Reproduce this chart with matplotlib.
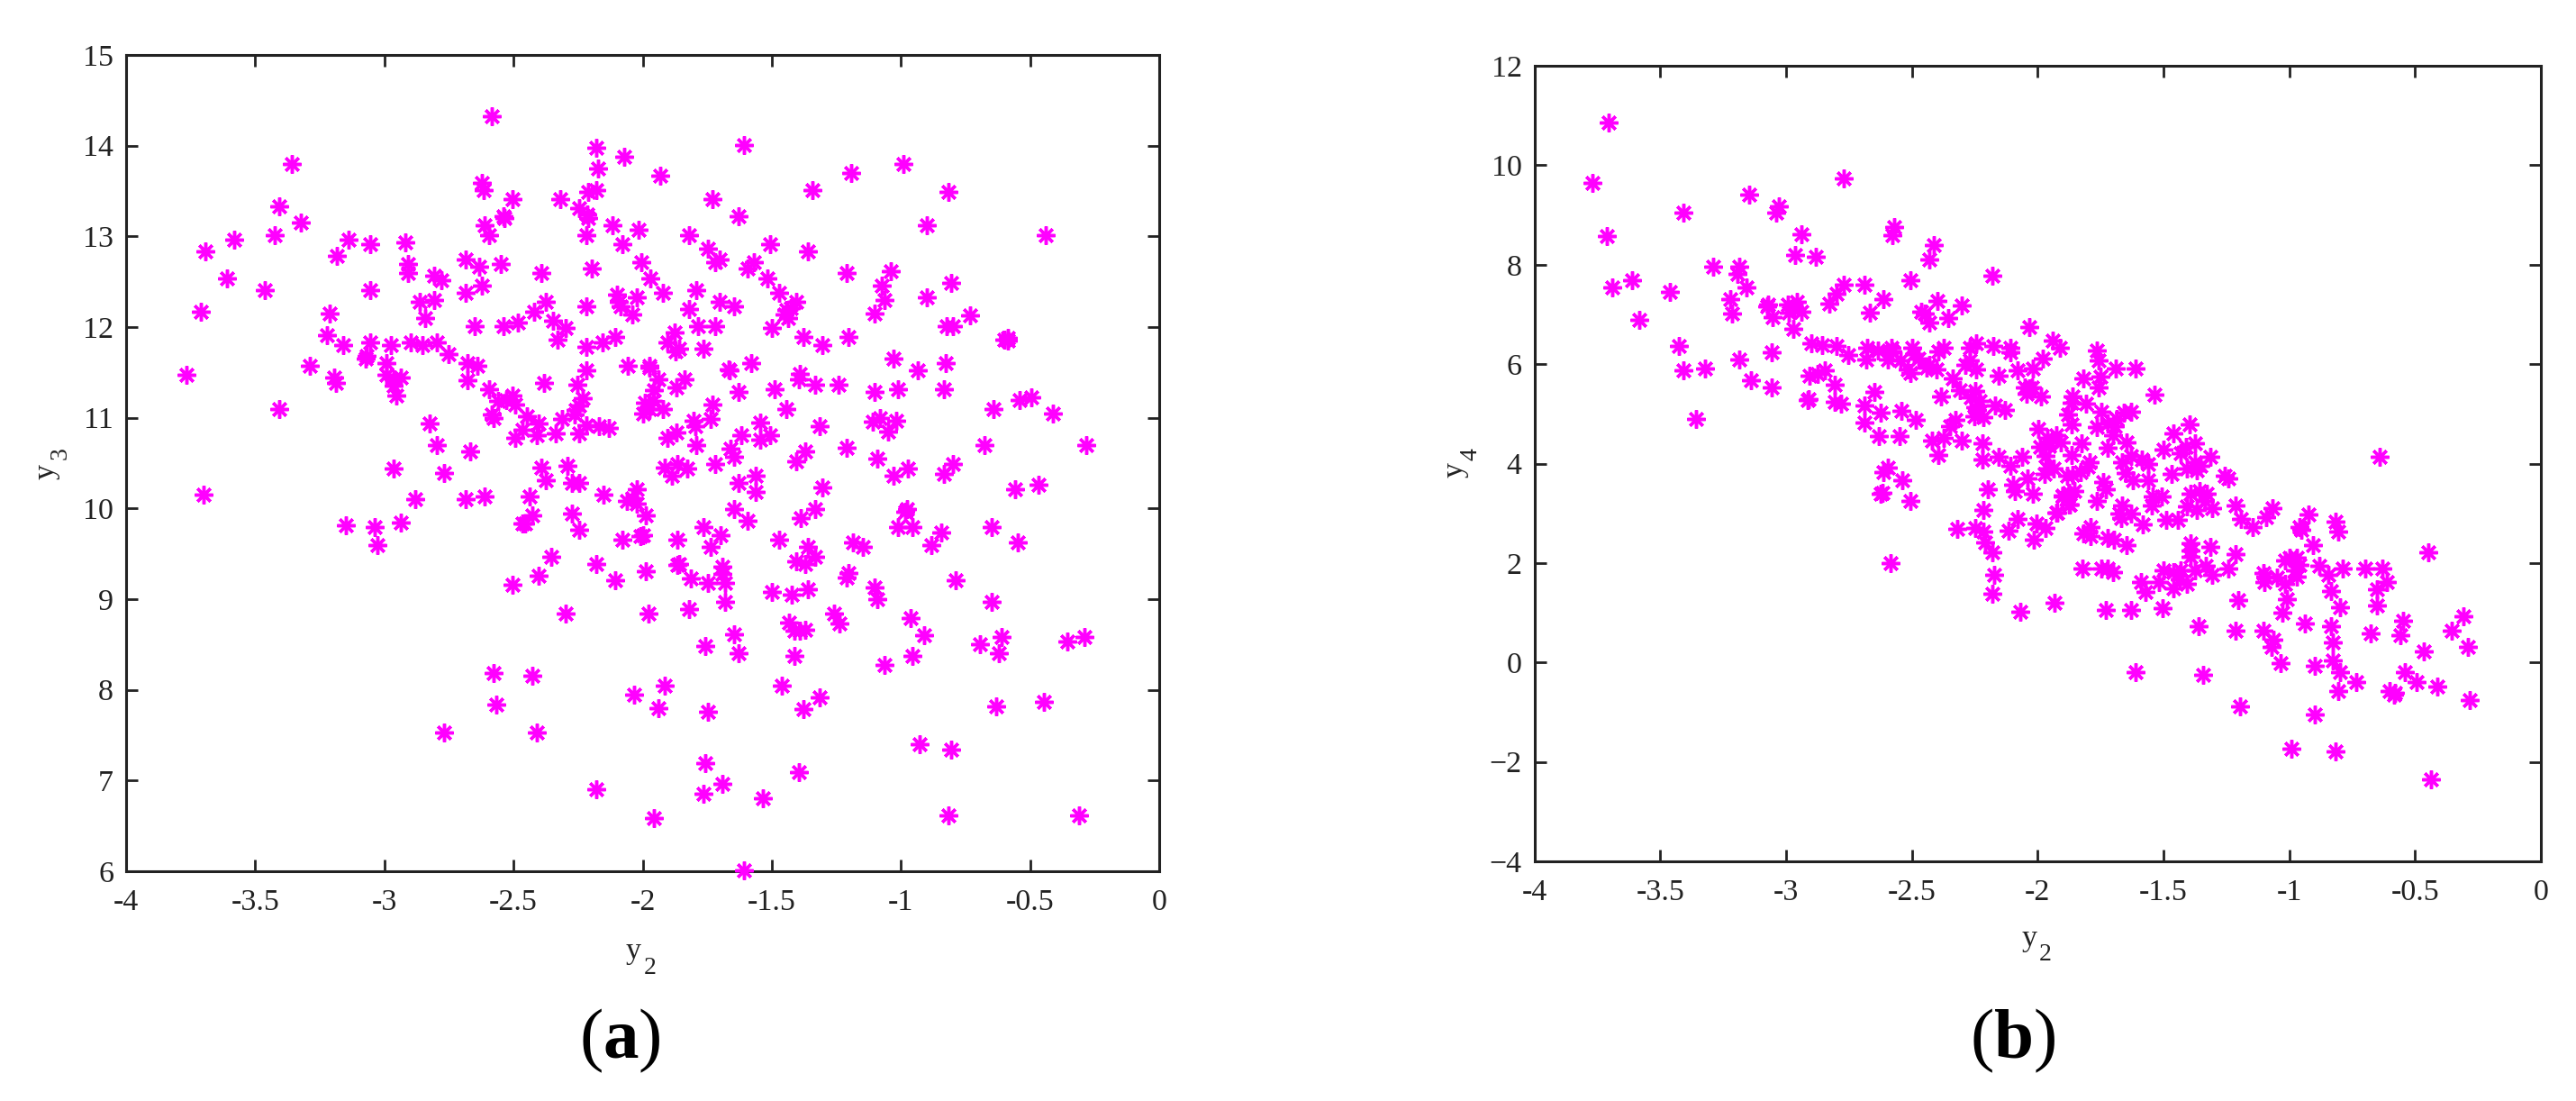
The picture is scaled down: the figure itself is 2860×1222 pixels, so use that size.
import matplotlib
matplotlib.use('Agg')
import matplotlib.pyplot as plt

plt.rcParams['font.family'] = ['Liberation Serif', 'DejaVu Serif']
plt.rcParams['mathtext.fontset'] = 'custom'
plt.rcParams['mathtext.rm'] = 'Liberation Serif'
plt.rcParams['mathtext.bf'] = 'Liberation Serif:bold'

# left panel, values
y2_a = [
    -2.585, -2.180, -2.070, -2.171, -3.359, -2.621, -2.614, -2.503, -2.318, -2.210,
    -2.180, -2.245, -2.216, -2.210, -2.540, -2.535, -3.406, -3.325, -3.425, -3.582,
    -3.692, -3.609, -3.462, -3.711, -3.185, -3.139, -3.055, -2.918, -2.908, -2.908,
    -3.055, -2.613, -2.595, -2.217, -2.116, -2.080, -2.686, -2.632, -2.549, -2.392,
    -2.198, -2.807, -2.779, -2.622, -2.686, -2.862, -2.807, -2.843, -2.650, -2.540,
    -2.484, -2.374, -2.420, -2.346, -2.299, -2.328, -2.217, -2.098, -2.091, -2.086,
    -3.213, -3.222, -3.158, -3.055, -2.974, -2.899, -2.853, -2.798, -2.751, -2.678,
    -2.641, -2.678, -3.070, -3.072, -3.287, -3.766, -2.991, -3.196, -3.186, -2.991,
    -2.965, -2.935, -2.954, -2.963, -3.406, -2.596, -2.559, -2.503, -2.495, -2.529,
    -2.585, -2.578, -2.447, -2.402, -2.466, -2.495, -2.410, -2.337, -2.311, -2.383,
    -2.217, -2.254, -2.233, -2.245, -2.259, -2.262, -2.217, -2.245, -2.168, -2.132,
    -2.059, -2.217, -2.154, -2.105, -2.825, -2.797, -2.668, -1.608, -1.931, -0.990,
    -1.193, -1.341, -0.816, -1.729, -1.627, -2.014, -1.820, -0.899, -0.438, -2.005,
    -1.969, -1.921, -2.023, -2.040, -1.747, -1.703, -1.718, -1.507, -1.359, -1.570,
    -1.592, -1.516, -1.211, -1.038, -1.074, -1.064, -1.102, -0.899, -0.807, -0.732,
    -0.822, -0.798, -0.586, -0.601, -0.586, -1.471, -1.793, -1.701, -1.646, -1.820,
    -1.784, -1.718, -1.405, -1.444, -1.450, -1.438, -1.426, -1.498, -1.377, -1.304,
    -1.203, -1.877, -1.904, -1.859, -1.871, -1.766, -1.028, -0.935, -0.826, -0.834,
    -0.641, -0.539, -0.496, -0.410, -1.973, -1.975, -1.666, -1.663, -1.580, -1.393,
    -1.396, -1.333, -1.240, -1.627, -1.489, -1.443, -1.101, -1.010, -1.940, -1.838,
    -1.868, -1.958, -1.991, -1.961, -1.997, -1.973, -1.921, -1.729, -1.736, -1.802,
    -1.795, -1.868, -1.904, -1.793, -1.544, -1.618, -1.507, -1.544, -1.313, -1.110,
    -1.082, -1.018, -1.048, -1.660, -1.646, -1.369, -1.406, -1.211, -1.092, -0.678,
    -0.282, -1.915, -1.867, -1.829, -1.885, -1.719, -1.627, -1.562, -1.562, -1.029,
    -0.972, -0.834, -0.797, -0.558, -0.466, -1.304, -2.023, -2.060, -2.039, -2.021,
    -1.987, -1.645, -1.592, -1.333, -1.387, -0.976, -0.982, -1.011, -0.954, -0.844,
    -0.881, -0.649, -0.548, -2.078, -2.009, -1.997, -1.867, -1.766, -1.700, -1.737,
    -1.471, -1.360, -1.333, -1.406, -1.369, -1.185, -1.147, -1.203, -1.211, -0.789,
    -1.102, -1.092, -0.649, -1.987, -1.865, -1.859, -1.692, -1.692, -1.812, -1.747,
    -1.682, -1.682, -1.498, -1.424, -1.359, -1.977, -1.820, -1.258, -1.239, -0.963,
    -0.909, -1.434, -1.414, -1.372, -1.390, -1.645, -1.757, -1.627, -1.414, -0.695,
    -0.612, -0.622, -0.355, -0.289, -0.954, -1.064, -1.914, -2.033, -1.940, -1.747,
    -1.461, -1.313, -1.377, -0.631, -0.448, -0.927, -0.807, -1.757, -1.396, -1.692,
    -1.766, -1.534, -1.958, -0.816, -0.310, -1.608, -2.964, -2.770, -2.392, -2.291,
    -2.374, -2.274, -2.245, -2.153, -3.701, -2.880, -2.686, -2.613, -2.438, -3.148,
    -3.037, -2.936, -3.028, -2.428, -2.456, -2.466, -2.273, -2.245, -2.355, -2.180,
    -2.402, -2.106, -2.503, -2.299, -2.577, -2.428, -2.567, -2.770, -2.410, -2.180,
]
y3 = [
    14.32, 13.98, 13.88, 13.75, 13.80, 13.59, 13.51, 13.41, 13.41, 13.49,
    13.51, 13.31, 13.24, 13.20, 13.22, 13.20, 13.33, 13.15, 13.01, 12.96,
    12.83, 12.54, 12.41, 12.17, 12.78, 12.96, 12.91, 12.93, 12.70, 12.60,
    12.41, 13.12, 13.01, 13.01, 13.12, 12.91, 12.75, 12.67, 12.70, 12.60,
    12.65, 12.57, 12.52, 12.46, 12.38, 12.28, 12.30, 12.10, 12.01, 12.01,
    12.05, 12.28, 12.17, 12.07, 11.99, 11.86, 12.23, 12.36, 12.28, 12.23,
    12.15, 11.91, 11.80, 11.83, 11.80, 11.83, 11.80, 11.83, 11.70, 11.60,
    11.57, 11.41, 11.68, 11.65, 11.57, 11.47, 11.60, 11.44, 11.38, 11.47,
    11.42, 11.44, 11.25, 11.35, 11.10, 11.31, 11.19, 11.25, 11.15, 11.20,
    11.04, 11.00, 11.02, 10.94, 10.87, 10.78, 10.81, 10.83, 10.99, 11.38,
    11.52, 11.36, 11.22, 11.14, 11.09, 11.04, 10.92, 10.83, 10.91, 10.89,
    11.57, 11.78, 11.83, 11.89, 10.94, 10.70, 10.63, 14.01, 13.67, 13.80,
    13.70, 13.51, 13.49, 13.41, 13.22, 13.07, 13.01, 13.12, 13.01, 12.72,
    12.54, 12.38, 12.33, 12.14, 12.86, 12.75, 12.72, 12.91, 12.83, 12.72,
    12.65, 12.54, 12.60, 12.62, 12.46, 12.30, 12.15, 12.33, 12.49, 12.13,
    12.01, 12.01, 11.88, 11.86, 11.85, 12.38, 12.41, 12.28, 12.23, 12.20,
    12.01, 12.01, 12.28, 12.19, 12.14, 12.10, 12.21, 11.99, 11.89, 11.80,
    11.89, 11.94, 11.83, 11.76, 11.73, 11.76, 11.65, 11.52, 11.60, 11.31,
    11.10, 11.20, 11.23, 11.05, 11.57, 11.55, 11.53, 11.52, 11.60, 11.48,
    11.42, 11.36, 11.36, 11.28, 11.31, 11.10, 11.28, 11.31, 11.42, 11.42,
    11.33, 11.30, 11.17, 11.19, 11.05, 11.10, 11.10, 11.15, 10.99, 10.97,
    10.91, 10.84, 10.78, 10.70, 10.95, 10.81, 10.81, 10.76, 10.91, 10.96,
    11.00, 10.97, 10.85, 10.66, 10.57, 10.63, 10.52, 10.67, 10.55, 10.70,
    10.70, 10.45, 10.49, 10.44, 10.36, 10.49, 10.28, 10.36, 10.18, 10.36,
    10.44, 10.38, 10.49, 10.21, 10.26, 10.23, 10.21, 10.08, 10.11, 10.05,
    9.92, 9.99, 9.86, 9.99, 9.89, 9.99, 9.96, 9.79, 9.79, 9.74,
    9.60, 9.79, 9.63, 9.66, 9.70, 9.71, 9.66, 9.79, 9.71, 9.58,
    9.66, 9.58, 9.47, 9.42, 9.39, 9.63, 9.58, 9.29, 9.24, 9.21,
    9.13, 9.00, 8.97, 9.31, 9.38, 9.39, 9.36, 9.28, 9.23, 9.18,
    9.18, 8.97, 9.08, 9.05, 9.11, 8.84, 8.89, 8.84, 8.73, 8.79,
    8.60, 8.74, 8.65, 8.66, 8.65, 8.61, 8.48, 8.40, 8.37, 8.50,
    8.58, 8.40, 8.53, 8.58, 8.37, 8.27, 8.05, 7.95, 7.80, 7.76,
    8.05, 7.92, 7.79, 7.82, 7.87, 7.40, 7.34, 7.19, 7.09, 6.96,
    6.85, 6.80, 6.59, 6.62, 6.62, 6.01, 10.44, 10.39, 10.45, 10.47,
    10.31, 10.28, 10.28, 10.15, 10.15, 10.10, 10.10, 10.13, 10.13, 9.81,
    9.79, 9.84, 9.60, 9.92, 9.83, 9.83, 9.94, 9.76, 9.47, 9.39,
    9.26, 9.21, 9.16, 8.84, 8.19, 8.16, 7.84, 7.53, 7.53, 6.90,
]

# right panel
y2_b = [
    -3.703, -3.768, -2.770, -3.148, -3.027, -3.038, -3.407, -3.711, -2.937, -2.569,
    -2.576, -2.412, -2.430, -2.963, -2.881, -3.288, -3.185, -3.194, -3.157, -2.179,
    -2.504, -3.692, -3.611, -3.463, -3.582, -3.223, -3.214, -2.770, -2.798, -2.826,
    -2.687, -2.613, -2.668, -2.400, -2.301, -2.354, -2.464, -2.450, -2.430, -3.070,
    -3.076, -2.993, -2.957, -2.990, -2.939, -2.969, -3.055, -2.972, -2.032, -3.425,
    -3.407, -3.323, -3.185, -3.056, -3.138, -3.056, -3.359, -2.899, -2.856, -2.798,
    -2.752, -2.679, -2.635, -2.680, -2.581, -2.578, -2.595, -2.545, -2.498, -2.492,
    -2.516, -2.504, -2.474, -2.442, -2.432, -2.402, -2.393, -2.372, -2.271, -2.244,
    -2.178, -2.107, -2.107, -2.289, -2.271, -2.244, -2.337, -2.307, -2.154, -2.079,
    -2.020, -2.908, -2.873, -2.844, -2.808, -2.915, -2.909, -2.808, -2.780, -2.650,
    -2.687, -2.687, -2.623, -2.540, -2.483, -2.632, -2.548, -2.383, -2.247, -2.265,
    -2.229, -2.247, -2.253, -2.217, -2.241, -2.170, -2.131, -2.050, -2.032, -2.044,
    -2.327, -2.349, -2.420, -2.372, -2.301, -2.394, -2.218, -2.218, -2.154, -2.061,
    -2.107, -2.042, -2.199, -2.096, -2.090, -2.020, -2.595, -2.613, -2.539, -2.617,
    -2.623, -2.504, -2.217, -2.319, -2.247, -2.217, -2.209, -2.179, -2.079, -2.115,
    -2.006, -1.967, -2.015, -1.925, -2.586, -2.172, -2.179, -2.068, -1.932, -1.901,
    -1.877, -1.877, -1.883, -1.940, -1.913, -1.764, -1.756, -1.979, -1.690, -1.610,
    -1.820, -1.749, -1.756, -1.535, -2.021, -1.987, -1.862, -1.866, -1.808, -1.878,
    -1.866, -1.746, -1.627, -1.657, -1.687, -1.764, -1.722, -1.693, -1.699, -1.645,
    -1.722, -1.827, -1.997, -1.961, -1.925, -1.907, -1.991, -1.955, -1.967, -1.866,
    -1.961, -1.937, -1.973, -1.794, -1.800, -1.862, -1.830, -1.738, -1.728, -1.663,
    -1.627, -1.585, -1.561, -1.651, -1.621, -1.561, -1.498, -1.469, -1.460, -1.395,
    -1.376, -1.412, -1.430, -1.313, -1.406, -1.376, -1.368, -1.352, -1.257, -1.242,
    -1.358, -1.391, -1.329, -1.406, -1.368, -1.305, -1.335, -1.212, -1.191, -1.147,
    -1.090, -1.066, -0.925, -0.959, -0.953, -0.816, -0.804, -0.907, -1.544, -1.507,
    -1.547, -1.665, -1.627, -1.669, -1.675, -1.582, -1.490, -1.442, -1.878, -1.901,
    -1.854, -1.872, -1.922, -1.764, -1.788, -1.820, -1.788, -1.720, -1.698, -1.645,
    -1.821, -1.746, -1.722, -1.699, -1.591, -1.571, -1.517, -1.498, -1.460, -1.460,
    -1.430, -1.406, -1.436, -1.394, -1.391, -1.394, -1.313, -1.213, -1.242, -1.331,
    -1.376, -1.305, -1.728, -1.627, -1.505, -1.360, -1.201, -1.212, -1.102, -1.064,
    -1.072, -1.036, -1.102, -1.096, -1.100, -1.048, -1.018, -1.009, -1.027, -1.018,
    -1.000, -0.971, -0.959, -0.977, -0.971, -0.881, -0.843, -0.786, -0.697, -0.631,
    -0.613, -0.652, -0.651, -0.834, -0.798, -0.937, -0.834, -0.826, -0.826, -0.798,
    -0.898, -0.676, -0.547, -0.557, -0.446, -0.640, -0.465, -0.354, -0.307, -0.290,
    -1.609, -1.341, -0.540, -0.493, -0.410, -0.282, -0.601, -0.583, -0.579, -0.732,
    -0.804, -0.898, -1.195, -0.991, -0.815, -0.436,
]
y4 = [
    10.86, 9.64, 9.73, 9.41, 9.17, 9.04, 9.04, 8.57, 8.61, 8.76,
    8.60, 8.39, 8.10, 8.19, 8.15, 7.96, 7.96, 7.82, 7.54, 7.78,
    7.68, 7.54, 7.69, 7.45, 6.89, 7.31, 7.02, 7.59, 7.41, 7.21,
    7.59, 7.31, 7.03, 7.27, 7.18, 6.93, 7.05, 7.02, 6.83, 7.20,
    7.17, 7.20, 7.25, 7.03, 7.06, 7.14, 6.94, 6.70, 6.74, 6.36,
    5.87, 5.91, 6.09, 6.24, 5.68, 5.53, 4.89, 6.42, 6.38, 6.37,
    6.18, 6.32, 6.27, 6.09, 6.32, 6.26, 6.09, 6.07, 6.32, 6.20,
    5.90, 5.82, 6.11, 5.93, 5.99, 5.89, 6.26, 6.32, 6.32, 6.41,
    6.37, 6.32, 6.23, 5.99, 6.08, 5.90, 5.72, 5.48, 5.77, 5.87,
    5.91, 5.77, 5.81, 5.87, 5.59, 5.28, 5.30, 5.25, 5.21, 5.44,
    5.16, 4.82, 5.02, 5.06, 4.87, 4.55, 4.55, 5.35, 5.45, 5.33,
    5.26, 5.14, 4.96, 4.93, 5.08, 5.16, 5.07, 5.54, 5.51, 5.40,
    4.87, 4.75, 4.46, 4.51, 4.46, 4.17, 4.41, 4.08, 4.14, 4.14,
    3.95, 3.71, 3.48, 3.57, 3.44, 3.39, 3.91, 3.82, 3.66, 3.42,
    3.39, 3.24, 3.07, 2.69, 2.70, 2.64, 2.41, 2.22, 2.88, 2.65,
    2.79, 2.70, 2.46, 3.01, 2.00, 1.76, 1.38, 1.02, 1.20, 3.36,
    3.42, 3.18, 3.76, 6.47, 6.32, 6.27, 6.08, 6.11, 5.91, 5.91,
    5.71, 5.75, 5.54, 5.38, 5.54, 5.35, 5.35, 5.23, 5.20, 4.99,
    4.78, 5.05, 5.05, 5.02, 4.90, 4.74, 4.81, 4.75, 4.57, 4.42,
    4.32, 4.41, 4.69, 4.51, 4.57, 4.42, 4.33, 4.36, 4.15, 4.18,
    3.90, 3.90, 3.79, 4.03, 3.94, 3.77, 3.82, 3.63, 3.48, 4.03,
    4.15, 4.09, 3.99, 3.81, 3.66, 3.66, 4.28, 3.80, 4.60, 4.78,
    4.41, 4.33, 4.21, 4.13, 3.90, 4.03, 3.87, 3.96, 3.75, 3.71,
    3.45, 3.39, 3.39, 3.14, 3.06, 3.10, 3.24, 3.15, 2.88, 2.73,
    2.93, 3.11, 2.97, 2.73, 2.67, 2.83, 2.64, 2.36, 3.33, 3.33,
    3.15, 3.15, 3.00, 2.91, 3.00, 2.78, 2.87, 2.87, 3.33, 3.33,
    3.45, 3.18, 3.01, 3.25, 2.73, 2.60, 2.55, 2.50, 2.46, 2.36,
    1.89, 1.89, 1.89, 1.82, 1.61, 1.42, 1.61, 1.85, 1.82, 1.49,
    1.85, 1.58, 1.67, 2.40, 2.25, 2.12, 2.32, 2.18, 1.89, 1.94,
    1.85, 1.76, 1.05, 1.05, 1.10, 0.73, 1.25, 0.64, 0.64, 0.46,
    0.31, -0.02, 1.80, 1.73, 1.61, 1.70, 1.58, 1.28, 1.01, 2.06,
    2.10, 2.10, 1.97, 1.85, 1.73, 1.94, 1.76, 1.88, 1.88, 1.88,
    1.62, 1.47, 1.15, 1.43, 1.11, 0.78, 0.73, 0.40, 0.04, -0.20,
    -0.07, 0.58, 0.83, 0.55, 2.22, 4.14, 0.22, 0.64, 0.92, 0.31,
    -0.19, -0.25, -0.19, -0.39, -0.48, -0.76, -0.58, -0.65, -0.62, -0.39,
    -0.57, -1.05, -0.89, -1.73, -1.79, -2.35,
]

x_ticks = [-4, -3.5, -3, -2.5, -2, -1.5, -1, -0.5, 0]
x_labels = ['-4', '-3.5', '-3', '-2.5', '-2', '-1.5', '-1', '-0.5', '0']
y_ticks_a = [6, 7, 8, 9, 10, 11, 12, 13, 14, 15]
y_ticks_b = [-4, -2, 0, 2, 4, 6, 8, 10, 12]

W, H = 2860, 1222
DARK = '#222222'
MAGENTA = '#ff00ff'

fig = plt.figure(figsize=(W / 100, H / 100), dpi=100, facecolor='white')


def px_text(x, y, s, **kw):
    # positions in picture pixels, y counted from the top
    fig.text(x / W, 1 - y / H, s, color=kw.pop('color', DARK), **kw)


def make_panel(left, right, top, bottom, xs, ys, y_ticks, ylim):
    ax = fig.add_axes([left / W, 1 - bottom / H, (right - left) / W, (bottom - top) / H])
    ax.plot(xs, ys, linestyle='none', marker=(8, 2, 0), markersize=14.5,
            markeredgewidth=2.5, color=MAGENTA, clip_on=False, zorder=5)
    ax.set_xlim(-4, 0)
    ax.set_ylim(*ylim)
    ax.set_xticks(x_ticks)
    ax.set_xticklabels(x_labels)
    ax.set_yticks(y_ticks)
    ax.tick_params(direction='in', top=True, right=True, length=9.5, width=2,
                   labelsize=24.5, colors=DARK)
    ax.tick_params(axis='x', pad=14)
    ax.tick_params(axis='y', pad=10)
    for side in ax.spines.values():
        side.set_linewidth(2.2)
        side.set_color(DARK)
    return ax


make_panel(140, 1287, 61, 967, y2_a, y3, y_ticks_a, (6, 15))
make_panel(1703.5, 2821, 73, 956, y2_b, y4, y_ticks_b, (-4, 12))

# axis names, the subscripts sit low and big in the original
px_text(703, 1064, 'y', fontsize=24.5, ha='center', va='baseline')
px_text(722, 1081, '2', fontsize=20, ha='center', va='baseline')
px_text(2253, 1050, 'y', fontsize=24.5, ha='center', va='baseline')
px_text(2271, 1066, '2', fontsize=20, ha='center', va='baseline')

px_text(60, 523, 'y', fontsize=24.5, rotation=90, rotation_mode='anchor', ha='center', va='baseline')
px_text(74, 503, '3', fontsize=20, rotation=90, rotation_mode='anchor', ha='center', va='baseline')
px_text(1624, 522, 'y', fontsize=24.5, rotation=90, rotation_mode='anchor', ha='center', va='baseline')
px_text(1639, 504, '4', fontsize=20, rotation=90, rotation_mode='anchor', ha='center', va='baseline')

# panel letters
px_text(688, 1174, r'($\mathbf{a}$)', fontsize=57, ha='center', va='baseline', color='black')
px_text(2235, 1174, r'($\mathbf{b}$)', fontsize=57, ha='center', va='baseline', color='black')

fig.savefig('out.png', dpi=100, facecolor='white')
